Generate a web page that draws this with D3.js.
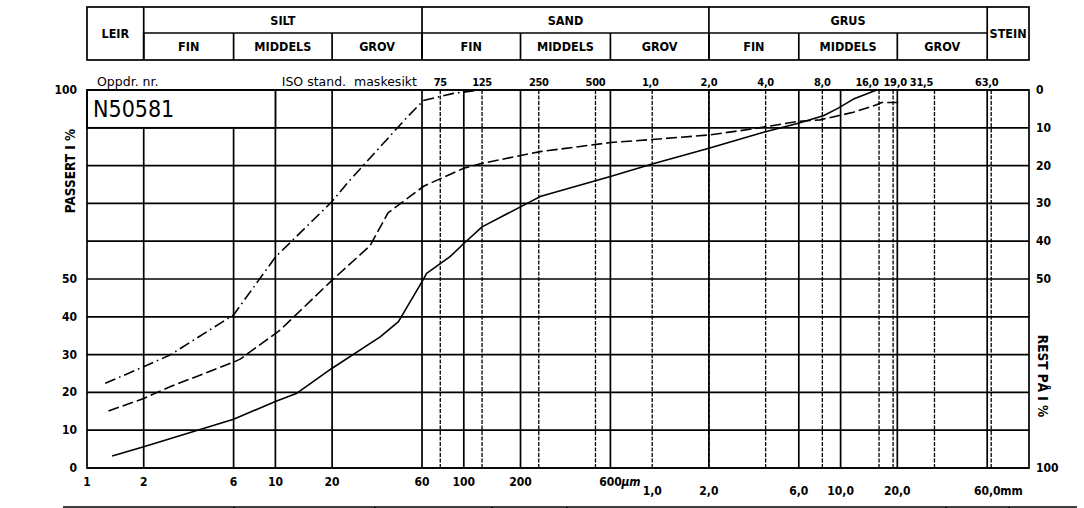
<!DOCTYPE html>
<html><head><meta charset="utf-8">
<script src="https://cdn.jsdelivr.net/npm/d3@7"></script>
<style>
html,body{margin:0;padding:0;background:#fff;}
svg{display:block;}
text{font-family:"DejaVu Sans Condensed","DejaVu Sans",sans-serif;font-weight:bold;fill:#000;}
</style></head>
<body>
<svg id="c" width="1084" height="508"></svg>
<script>
// ---------- data ----------
const sampleId = "N50581";
// grain size classes (boundaries in micrometres)
const mainClasses = ["LEIR","SILT","SAND","GRUS","STEIN"];
const mainBounds = [[1,2],[2,60],[60,2000],[2000,60000],[60000,100000]];
const subClasses = ["FIN","MIDDELS","GROV","FIN","MIDDELS","GROV","FIN","MIDDELS","GROV"];
const subBounds = [[2,6],[6,20],[20,60],[60,200],[200,600],[600,2000],[2000,6000],[6000,20000],[20000,60000]];
// solid vertical grid lines (µm)
const gridSizes = [2,6,10,20,60,100,200,600,2000,6000,10000,20000,60000];
// ISO standard sieves (µm) and labels
const sieveSizes = [75,125,250,500,1000,2000,4000,8000,16000,19000,31500,63000];
const sieveLabels = ["75","125","250","500","1,0","2,0","4,0","8,0","16,0","19,0","31,5","63,0"];
// bottom axis
const bottomTicksUm = [1,2,6,10,20,60,100,200,600];
const bottomLabelsUm = ["1","2","6","10","20","60","100","200","600"];
const bottomTicksMm = [1000,2000,6000,10000,20000,60000];
const bottomLabelsMm = ["1,0","2,0","6,0","10,0","20,0","60,0"];
// y axis
const percentGrid = [0,10,20,30,40,50,60,70,80,90,100];
const leftTicks = [0,10,20,30,40,50,100];
const rightTicks = [100,90,80,70,60,50,0];      // passing %
const rightLabels = ["0","10","20","30","40","50","100"]; // retained %
// curves: grain size (µm) and percent passing
const solidSize = [1.36,2,6,10,12.9,20,36,45,61,63.5,84.5,100,125,254,600,1000,2000,3900,5960,8100,9720,11700,15550];
const solidPass = [3.2,5.6,12.9,17.6,19.7,26.4,34.7,38.7,49.9,51.5,55.9,59.4,63.8,71.8,77.1,80.4,84.6,88.8,91.2,93.2,95.2,97.6,100];
const dashSize = [1.3,2,2.76,6,6.5,10.6,20,31.8,39.6,61.5,100,125,254,600,1000,2000,3300,5960,7780,9720,11700,15550,16500,20700];
const dashPass = [15.1,18.4,21.5,28,28.8,36.5,49.7,58.8,67.5,74.6,79.3,80.6,83.7,86.1,86.9,88.1,89.6,91.7,92.1,93.2,94.1,96.1,96.7,96.7];
const dotSize = [1.25,2,2.76,6,10,20,24,50,61,88,122];
const dotPass = [22.4,26.8,29.9,40.5,55.8,70.5,75.3,92.8,97.2,99.1,100];

// ---------- layout ----------
const svg = d3.select("#c");
const L = 87, R = 1029, T = 90, B = 468;
const x = d3.scaleLog().domain([1,100000]).range([L,R]);
const y = d3.scaleLinear().domain([0,100]).range([B,T]);
const hTop = 7, hMid = 33, hBot = 60;
const gw = 1.7;

svg.append("rect").attr("width",1084).attr("height",508).attr("fill","#fff");

// header table
const hdr = svg.append("g").attr("stroke","#000").attr("stroke-width",gw).attr("fill","none");
hdr.append("rect").attr("x",L).attr("y",hTop).attr("width",R-L).attr("height",hBot-hTop);
hdr.append("line").attr("x1",x(2)).attr("x2",x(60000)).attr("y1",hMid).attr("y2",hMid);
mainBounds.forEach(b=>{ if(b[0]>1) hdr.append("line").attr("x1",x(b[0])).attr("x2",x(b[0])).attr("y1",hTop).attr("y2",hBot); });
subBounds.forEach(b=>{ hdr.append("line").attr("x1",x(b[0])).attr("x2",x(b[0])).attr("y1",hMid).attr("y2",hBot); });
mainClasses.forEach((c,i)=>{
  const b = mainBounds[i];
  const cx = (x(b[0])+x(b[1]))/2;
  const span = (c==="LEIR"||c==="STEIN");
  svg.append("text").attr("x", cx).attr("y", span ? (hTop+hBot)/2 : (hTop+hMid)/2)
    .attr("text-anchor","middle").attr("dominant-baseline","central")
    .style("font-size","12.5px").text(c);
});
subClasses.forEach((c,i)=>{
  const b = subBounds[i];
  svg.append("text").attr("x",(x(b[0])+x(b[1]))/2).attr("y",(hMid+hBot)/2)
    .attr("text-anchor","middle").attr("dominant-baseline","central")
    .style("font-size","12.5px").text(c);
});

// horizontal grid
const grid = svg.append("g").attr("stroke","#000").attr("stroke-width",gw);
percentGrid.forEach(p=>{
  grid.append("line").attr("x1",L).attr("x2",R).attr("y1",y(p)).attr("y2",y(p));
});
// vertical solid grid
gridSizes.forEach(s=>{
  grid.append("line").attr("x1",x(s)).attr("x2",x(s)).attr("y1",T).attr("y2",B);
});
// sieve dashed lines
const sv = svg.append("g").attr("stroke","#000").attr("stroke-width",1.3).attr("stroke-dasharray","4,1.5");
sieveSizes.forEach(s=>{
  sv.append("line").attr("x1",x(s)).attr("x2",x(s)).attr("y1",T).attr("y2",B);
});

// sample id box (covers grid)
svg.append("rect").attr("x",L).attr("y",T).attr("width",x(10)-L).attr("height",y(90)-T)
  .attr("fill","#fff").attr("stroke","#000").attr("stroke-width",gw);
svg.append("text").attr("x",L+6).attr("y",T+27).style("font-weight","normal")
  .style("font-size","23px").text(sampleId);

// plot frame
svg.append("rect").attr("x",L).attr("y",T).attr("width",R-L).attr("height",B-T)
  .attr("fill","none").attr("stroke","#000").attr("stroke-width",gw);

// curves
const line = d3.line().x(d=>x(d[0])).y(d=>y(d[1]));
function curve(sz, ps, dash){
  svg.append("path").datum(sz.map((s,i)=>[s,ps[i]])).attr("d",line)
    .attr("fill","none").attr("stroke","#000").attr("stroke-width",1.6)
    .attr("stroke-dasharray",dash).attr("stroke-linejoin","round");
}
curve(solidSize, solidPass, null);
curve(dashSize, dashPass, "11,4");
curve(dotSize, dotPass, "11,4,1.6,4");

// top labels
svg.append("text").attr("x",L+10).attr("y",T-4).style("font-size","12.5px")
  .style("font-family","'DejaVu Sans',sans-serif").style("font-weight","normal").text("Oppdr. nr.");
svg.append("text").attr("x",x(60)-5).attr("y",T-4).attr("text-anchor","end").style("font-size","12.5px")
  .style("font-family","'DejaVu Sans',sans-serif").style("font-weight","normal")
  .attr("xml:space","preserve").text("ISO stand.  maskesikt");
const sieveDx = {"16,0":-12,"19,0":2,"31,5":-13,"63,0":-4.5,"1,0":-2};
sieveLabels.forEach((l,i)=>{
  svg.append("text").attr("x",x(sieveSizes[i])+(sieveDx[l]||0)).attr("y",T-4)
    .attr("text-anchor","middle").style("font-size","11px").style("letter-spacing","-0.3px").text(l);
});

// bottom axis labels
bottomTicksUm.forEach((t,i)=>{
  svg.append("text").attr("x",x(t)).attr("y",B+18).attr("text-anchor","middle")
    .style("font-size","12px").text(bottomLabelsUm[i]);
});
svg.append("text").attr("x",x(600)+11).attr("y",B+18).attr("text-anchor","start")
  .style("font-size","12px").style("font-style","italic").text("\u03bcm");
bottomTicksMm.forEach((t,i)=>{
  svg.append("text").attr("x",x(t)).attr("y",B+27).attr("text-anchor","middle")
    .style("font-size","12px").text(bottomLabelsMm[i]);
});
svg.append("text").attr("x",x(60000)+13).attr("y",B+27).attr("text-anchor","start")
  .style("font-size","12px").text("mm");

// left axis
leftTicks.forEach(t=>{
  svg.append("text").attr("x",L-10).attr("y",y(t)).attr("text-anchor","end")
    .attr("dominant-baseline","central").style("font-size","12px").text(t);
});
svg.append("text").attr("transform","translate(70,171) rotate(-90)").attr("text-anchor","middle")
  .attr("dominant-baseline","central").style("font-size","13.5px").text("PASSERT I %");
// right axis
rightTicks.forEach((t,i)=>{
  svg.append("text").attr("x",R+7).attr("y",y(t)).attr("text-anchor","start")
    .attr("dominant-baseline","central").style("font-size","12px").text(rightLabels[i]);
});
svg.append("text").attr("transform","translate(1043,376) rotate(90)").attr("text-anchor","middle")
  .attr("dominant-baseline","central").style("font-size","13.5px").text("REST PÅ I %");

// start of the table below (cut off)
const lowT = svg.append("g").attr("stroke","#000").attr("stroke-width",gw);
lowT.append("line").attr("x1",63).attr("x2",1077).attr("y1",507).attr("y2",507);
[234,375,492,567,946,1009].forEach(px=>{
  lowT.append("line").attr("x1",px).attr("x2",px).attr("y1",507).attr("y2",510);
});
</script>
</body></html>
